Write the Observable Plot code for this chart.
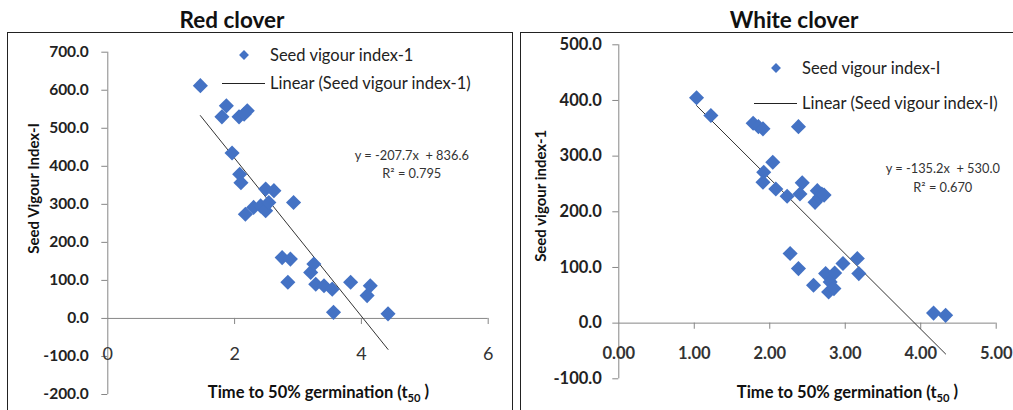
<!DOCTYPE html>
<html><head><meta charset="utf-8">
<script src="https://cdn.jsdelivr.net/npm/d3@7"></script>
<script src="https://cdn.jsdelivr.net/npm/@observablehq/plot@0.6"></script>
<style>
html,body{margin:0;padding:0;background:#fff;width:1013px;height:410px;overflow:hidden;font-family:Lato,"Open Sans",sans-serif;}
#page{position:relative;width:1013px;height:410px;overflow:hidden;}
.box{position:absolute;box-sizing:border-box;border:1.5px solid #222;border-bottom:none;}
.title{position:absolute;font-weight:bold;font-size:22.5px;color:#111;transform:translate(-50%,-50%);white-space:nowrap;}
.chart{position:absolute;}
.leg{position:absolute;font-size:16.5px;color:#222;white-space:nowrap;transform:translateY(-50%);line-height:1;}
.legdia{position:absolute;width:7px;height:7px;background:#4472C4;transform:translate(-50%,-50%) rotate(45deg);}
.legline{position:absolute;height:1px;background:#222;}
</style>
</head><body>
<div id="page">
  <div class="box" style="left:7px;top:32px;width:506px;height:400px;"></div>
  <div class="box" style="left:520px;top:32px;width:500px;height:400px;"></div>
  <div class="title" id="t1" style="left:232px;top:19px;"></div>
  <div class="title" id="t2" style="left:794px;top:19px;"></div>
  <div class="chart" id="c1" style="left:10px;top:33px;"></div>
  <div class="chart" id="c2" style="left:523px;top:33px;"></div>
  <div class="legdia" style="left:244px;top:55px;"></div>
  <div class="leg" id="l1a" style="left:270px;top:55px;"></div>
  <div class="legline" style="left:222px;top:83px;width:43px;"></div>
  <div class="leg" id="l1b" style="left:270px;top:83px;"></div>
  <div class="legdia" style="left:776px;top:68px;"></div>
  <div class="leg" id="l2a" style="left:802px;top:68px;"></div>
  <div class="legline" style="left:754px;top:103px;width:43px;"></div>
  <div class="leg" id="l2b" style="left:802px;top:103px;"></div>
</div>
<script>
// ---------- Red clover ----------
const redTitle = "Red clover";
const redT50 = [1.46, 1.87, 1.80, 2.07, 2.15, 2.20, 1.96, 2.08, 2.10, 2.17, 2.30, 2.41, 2.49, 2.54, 2.49, 2.62, 2.93, 2.75, 2.88, 2.84, 3.20, 3.25, 3.28, 3.41, 3.54, 3.56, 3.83, 4.09, 4.14, 4.42];
const redSVI = [612, 559, 530, 530, 537, 546, 435, 379, 357, 274, 292, 296, 283, 305, 340, 336, 305, 160, 156, 95, 121, 143, 90, 86, 77, 16, 95, 60, 86, 12];
const redYTicks = [-200, -100, 0, 100, 200, 300, 400, 500, 600, 700];
const redXTicks = [0, 2, 4, 6];
const redFit = {slope: -207.7, intercept: 836.6, r2: 0.795};
const redSeries = "Seed vigour index-1";
const redYLabel = "Seed Vigour Index-I";

// ---------- White clover ----------
const whiteTitle = "White clover";
const whiteT50 = [1.03, 1.22, 1.78, 1.85, 1.91, 2.38, 2.04, 1.92, 1.91, 2.08, 2.23, 2.43, 2.40, 2.60, 2.63, 2.66, 2.69, 2.72, 2.27, 2.38, 2.58, 2.74, 2.78, 2.80, 2.85, 2.86, 2.97, 3.16, 3.18, 4.17, 4.33];
const whiteSVI = [405, 373, 359, 353, 349, 353, 289, 271, 253, 241, 228, 252, 232, 217, 238, 226, 232, 230, 125, 98, 68, 89, 56, 74, 62, 90, 107, 116, 89, 18, 14];
const whiteYTicks = [-100, 0, 100, 200, 300, 400, 500];
const whiteXTicks = [0, 1, 2, 3, 4, 5];
const whiteFit = {slope: -135.2, intercept: 530.0, r2: 0.670};
const whiteSeries = "Seed vigour index-I";
const whiteYLabel = "Seed vigour index-1";

const xLabel = "Time to 50% germination (t50 )";
const BLUE = "#4472C4", AXIS = "#868686", FONT = "Lato, 'Open Sans', sans-serif";

function panel(cfg) {
  const pts = cfg.t.map((x, i) => ({x, y: cfg.v[i]}));
  const ext = d3.extent(cfg.t);
  const fit = ext.map(x => ({x, y: cfg.fit.slope * x + cfg.fit.intercept}));
  const eq = `y = ${cfg.fit.slope.toFixed(1)}x  + ${cfg.fit.intercept.toFixed(1)}\nR² = ${cfg.fit.r2.toFixed(3)}`;
  const svg = Plot.plot({
    width: cfg.width, height: 377,
    marginLeft: cfg.mL, marginRight: cfg.mR, marginTop: cfg.mT, marginBottom: cfg.mB,
    x: {domain: [cfg.xTicks[0], cfg.xTicks[cfg.xTicks.length - 1]], axis: null},
    y: {domain: [cfg.yTicks[0], cfg.yTicks[cfg.yTicks.length - 1]]},
    style: {background: "transparent", overflow: "visible", fontFamily: FONT},
    marks: [
      Plot.ruleX([0], {stroke: AXIS}),
      Plot.ruleY([0], {stroke: AXIS}),
      Plot.axisY({ticks: cfg.yTicks, tickFormat: d => d.toFixed(1), tickSize: 6, tickPadding: cfg.yPad,
        stroke: AXIS, fill: "#222", fontWeight: "bold", fontSize: cfg.yFont, label: null}),
      Plot.ruleX(cfg.xTicks.filter(d => d !== 0), {x: d => d, y1: 0, y2: cfg.tickLen, stroke: AXIS}),
      Plot.text(cfg.xTicks, {x: d => d, frameAnchor: "bottom", dy: cfg.xLabDy, text: cfg.xFmt,
        fontSize: cfg.xFont, fontWeight: cfg.xWeight, fill: "#333", lineAnchor: "middle"}),
      Plot.line(fit, {x: "x", y: "y", stroke: "#333", strokeWidth: 1}),
      Plot.dot(pts, {x: "x", y: "y", symbol: "diamond2", r: 6.8, fill: BLUE, stroke: "none"}),
      Plot.text([eq], {text: d => d, frameAnchor: "top-left", dx: cfg.eqDx, dy: cfg.eqDy,
        textAnchor: "middle", lineAnchor: "middle", lineHeight: 1.45, fontSize: 12.8, fill: "#333"}),
      Plot.text([cfg.yLabel], {text: d => d, frameAnchor: "left", rotate: -90, dx: cfg.ylDx, dy: cfg.ylDy,
        textAnchor: "middle", fontWeight: "bold", fontSize: cfg.ylFont, fill: "#111", lineAnchor: "middle"}),
      Plot.text([xLabel], {text: d => d, frameAnchor: "bottom", dx: cfg.xlDx, dy: cfg.xlDy,
        textAnchor: "middle", fontWeight: "bold", fontSize: 16.5, fill: "#111", lineAnchor: "middle"})
    ]
  });
  d3.select(svg).selectAll("text").filter(function() { return this.textContent === xLabel; }).each(function() {
    const t = d3.select(this);
    t.text(null);
    t.append("tspan").text("Time to 50% germination (t");
    t.append("tspan").attr("font-size", "0.68em").attr("dy", "0.35em").text("50");
    t.append("tspan").attr("dy", "-0.3em").text(" )");
  });
  return svg;
}

document.getElementById("t1").textContent = redTitle;
document.getElementById("t2").textContent = whiteTitle;
document.getElementById("l1a").textContent = redSeries;
document.getElementById("l1b").textContent = `Linear (${redSeries})`;
document.getElementById("l2a").textContent = whiteSeries;
document.getElementById("l2b").textContent = `Linear (${whiteSeries})`;

document.getElementById("c1").appendChild(panel({
  t: redT50, v: redSVI, yTicks: redYTicks, xTicks: redXTicks, fit: redFit, yLabel: redYLabel,
  width: 500, mL: 97.3, mR: 22.3, mT: 18.7, mB: 16,
  yPad: 13, yFont: 15.5, tickLen: -16, xLabDy: -40, xFmt: d => String(d), xFont: 18, xWeight: "normal",
  eqDx: 304, eqDy: 111, ylDx: -74, ylDy: -35, ylFont: 15, xlDx: 20.5, xlDy: -2
}));
document.getElementById("c2").appendChild(panel({
  t: whiteT50, v: whiteSVI, yTicks: whiteYTicks, xTicks: whiteXTicks, fit: whiteFit, yLabel: whiteYLabel,
  width: 490, mL: 95.3, mR: 17.3, mT: 11.3, mB: 31.7,
  yPad: 11, yFont: 16.5, tickLen: -11, xLabDy: -25, xFmt: d => d.toFixed(2), xFont: 16.5, xWeight: "bold",
  eqDx: 324, eqDy: 131.5, ylDx: -78, ylDy: -16, ylFont: 15, xlDx: 40, xlDy: 13.7
}));
</script>
</body></html>
